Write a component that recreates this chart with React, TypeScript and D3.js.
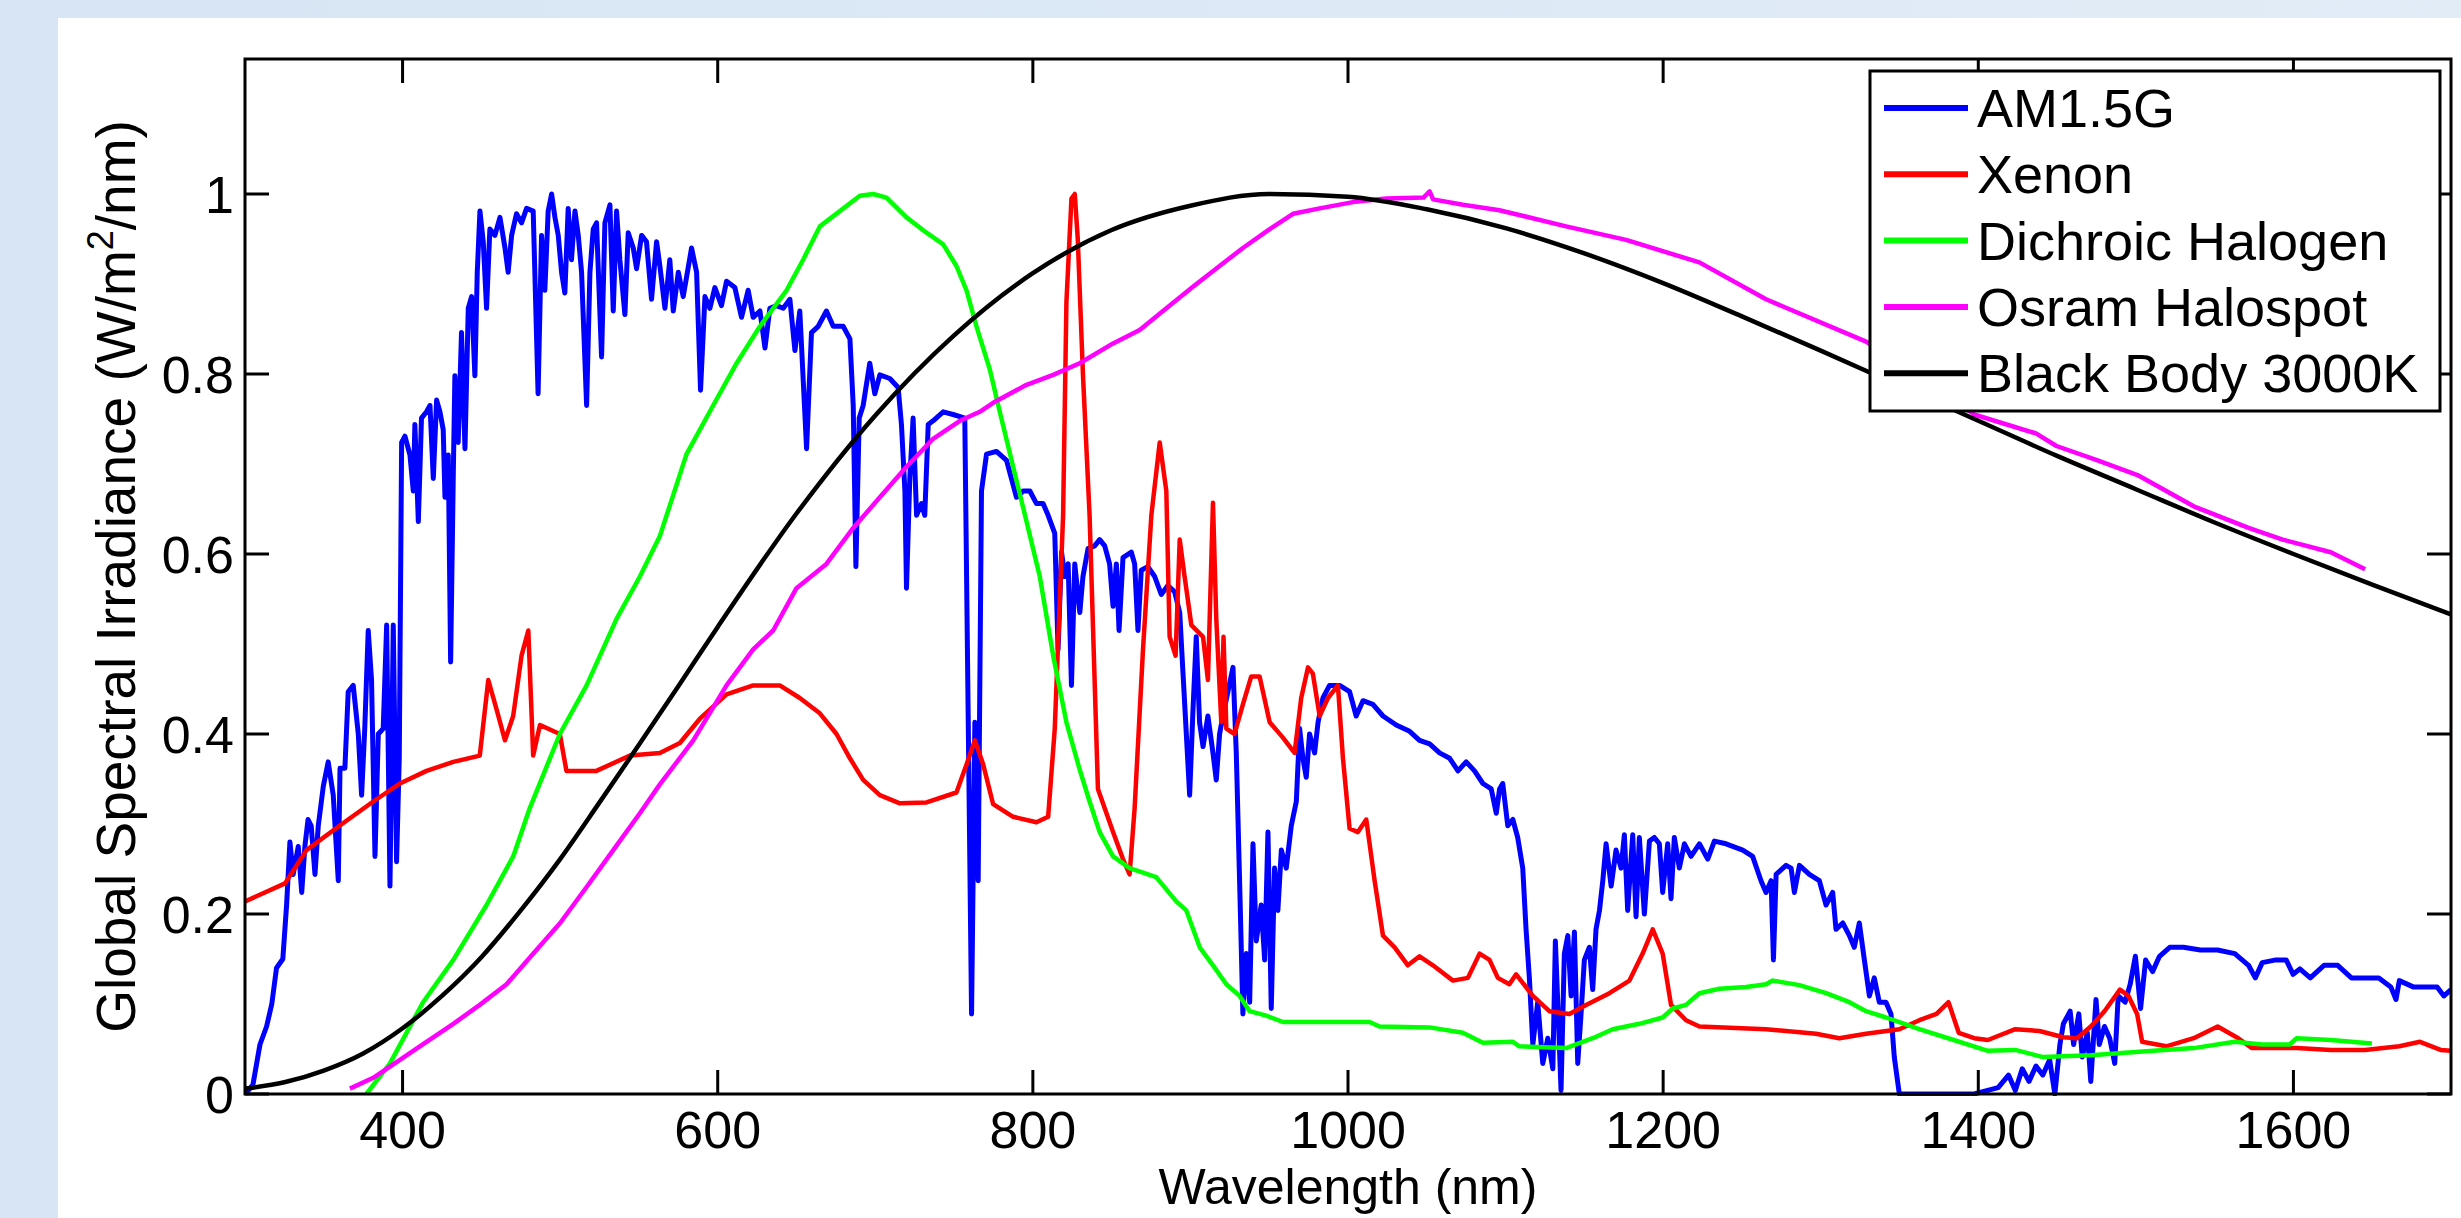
import React from "react";
import * as d3 from "d3";

// values (wavelength nm, normalised irradiance)
const am15g: [number, number][] = [
  [300, 0], [305, 0.01], [309.5, 0.055], [313.7, 0.075], [317, 0.1], [320, 0.14], [324, 0.15], [326.4, 0.21],
  [328.5, 0.28], [330.6, 0.244], [333.8, 0.275], [336, 0.224], [338, 0.275], [340, 0.305], [342, 0.298],
  [344.4, 0.244], [346.5, 0.298], [349.7, 0.342], [352.8, 0.369], [356, 0.332], [359.2, 0.237], [360.3, 0.362],
  [363.4, 0.362], [365.5, 0.447], [368.7, 0.454], [371.9, 0.4], [374, 0.332], [376, 0.406], [378.2, 0.515],
  [380.3, 0.46], [382.5, 0.264], [384.6, 0.4], [387.7, 0.406], [389.9, 0.521], [392, 0.231], [394.1, 0.521],
  [396.2, 0.258], [397.9, 0.373], [399.4, 0.724], [401.5, 0.731], [404.7, 0.71], [406.8, 0.67], [407.8, 0.744],
  [410, 0.636], [412, 0.751], [415.2, 0.758], [417.4, 0.765], [419.5, 0.684], [421.6, 0.771], [423.7, 0.758],
  [425.8, 0.738], [426.9, 0.663], [429, 0.71], [430.5, 0.48], [432.2, 0.69], [433.2, 0.798], [435.3, 0.724],
  [437.4, 0.846], [439.6, 0.717], [441.7, 0.873], [443.8, 0.886], [445.9, 0.798], [447.4, 0.913], [449.1, 0.981],
  [451.2, 0.947], [453.3, 0.873], [455.4, 0.961], [458.6, 0.954], [461.8, 0.974], [465, 0.94], [467, 0.913],
  [469.2, 0.954], [472.3, 0.978], [475.5, 0.968], [478.7, 0.984], [482.9, 0.981], [486, 0.778], [488.2, 0.954],
  [490.3, 0.893], [492.4, 0.981], [494.6, 1.0], [496.7, 0.974], [498.8, 0.954], [500.9, 0.913], [503, 0.89],
  [505.1, 0.984], [507.2, 0.927], [509.4, 0.981], [511.5, 0.954], [513.6, 0.913], [516.8, 0.765], [518.9, 0.913],
  [521, 0.961], [523.1, 0.968], [526.3, 0.819], [528.4, 0.968], [531.6, 0.988], [533.7, 0.87], [535.8, 0.981],
  [537.9, 0.927], [541.1, 0.866], [543.2, 0.957], [546.4, 0.94], [548.5, 0.917], [551.7, 0.954], [554.8, 0.947],
  [558, 0.883], [561.2, 0.947], [563.3, 0.92], [566.5, 0.873], [569.6, 0.927], [571.8, 0.87], [575, 0.913],
  [578.1, 0.886], [583.4, 0.94], [586.6, 0.913], [589.1, 0.782], [591.9, 0.886], [595, 0.873], [598.2, 0.896],
  [602.4, 0.876], [605.6, 0.903], [610.9, 0.896], [615.1, 0.863], [619.3, 0.893], [622.5, 0.863], [626.8, 0.87],
  [630, 0.829], [633.1, 0.873], [637.3, 0.876], [641.6, 0.873], [645.8, 0.883], [649, 0.826], [652.1, 0.87],
  [656.4, 0.717], [659.5, 0.846], [663.8, 0.853], [669, 0.87], [673.3, 0.853], [679.6, 0.853], [683.9, 0.839],
  [686, 0.765], [687.7, 0.586], [689.8, 0.751], [692.3, 0.765], [696.5, 0.812], [699.7, 0.778], [702.9, 0.799],
  [709.2, 0.795], [714.5, 0.785], [716.6, 0.744], [718.8, 0.67], [719.8, 0.562], [721.9, 0.684], [724, 0.751],
  [726.2, 0.643], [729.3, 0.656], [731.4, 0.643], [733.6, 0.744], [736.7, 0.748], [743.1, 0.758], [749.4, 0.755],
  [756.8, 0.751], [759, 0.413], [761.1, 0.089], [763.2, 0.413], [765.3, 0.237], [767.4, 0.67], [770.6, 0.711],
  [776.9, 0.714], [783.3, 0.704], [789.6, 0.663], [793.9, 0.67], [798.1, 0.67], [802.3, 0.656], [806.5, 0.656],
  [809.7, 0.643], [813.9, 0.623], [816, 0.494], [818.2, 0.602], [820.3, 0.575], [822.4, 0.589], [824.5, 0.454],
  [826.6, 0.589], [829.8, 0.535], [831.8, 0.575], [835, 0.606], [839.2, 0.609], [842.4, 0.616], [845.6, 0.609],
  [848.7, 0.589], [850.9, 0.542], [853, 0.589], [854.7, 0.515], [857.2, 0.596], [862.5, 0.602], [864.6, 0.589],
  [866.7, 0.515], [868.8, 0.582], [873, 0.586], [877.3, 0.575], [881.5, 0.555], [885.7, 0.565], [890, 0.558],
  [893.2, 0.535], [895.3, 0.467], [897.4, 0.4], [899.5, 0.332], [901.6, 0.426], [903.7, 0.508], [905.8, 0.413],
  [908, 0.386], [911.1, 0.42], [914.3, 0.379], [916.4, 0.349], [918.5, 0.4], [920.6, 0.42], [923.8, 0.447],
  [927, 0.474], [929.1, 0.379], [931.2, 0.237], [933.3, 0.089], [935.5, 0.156], [937.6, 0.102], [939.7, 0.278],
  [941.8, 0.17], [944.9, 0.21], [947.1, 0.149], [949.2, 0.291], [951.3, 0.095], [953.4, 0.251], [955.5, 0.204],
  [957.7, 0.271], [960.8, 0.251], [964, 0.298], [967.2, 0.325], [969.3, 0.406], [971.4, 0.373], [973.5, 0.352],
  [975.6, 0.4], [978.8, 0.379], [981, 0.413], [984.1, 0.44], [988.3, 0.454], [994.7, 0.454], [1001, 0.447],
  [1005.2, 0.42], [1009.5, 0.437], [1015.8, 0.433], [1022.2, 0.42], [1030.6, 0.41], [1039.1, 0.403],
  [1045.4, 0.393], [1051.8, 0.389], [1058.1, 0.379], [1064.5, 0.373], [1069.8, 0.359], [1075, 0.369],
  [1080.3, 0.359], [1085.6, 0.345], [1090.9, 0.339], [1094.1, 0.312], [1096.2, 0.339], [1098.2, 0.345],
  [1101.4, 0.298], [1104.6, 0.305], [1107.7, 0.285], [1110.9, 0.251], [1113, 0.183], [1115.1, 0.129],
  [1117.3, 0.055], [1120.4, 0.102], [1123.6, 0.034], [1126.8, 0.062], [1130, 0.028], [1131.6, 0.17],
  [1133.7, 0.075], [1135.2, 0.004], [1137.3, 0.156], [1139.5, 0.176], [1141.6, 0.109], [1143.7, 0.18],
  [1145.8, 0.034], [1147.9, 0.089], [1150, 0.149], [1153.2, 0.163], [1155.3, 0.116], [1157.4, 0.183],
  [1159.6, 0.204], [1161.7, 0.237], [1163.8, 0.278], [1167, 0.231], [1170.1, 0.271], [1173.3, 0.251],
  [1175.4, 0.288], [1177.5, 0.204], [1180.7, 0.288], [1182.8, 0.197], [1184.9, 0.285], [1188.1, 0.2],
  [1191.3, 0.281], [1194.4, 0.285], [1197.6, 0.278], [1199.7, 0.224], [1202.9, 0.278], [1205, 0.217],
  [1207.1, 0.285], [1210.3, 0.251], [1213.5, 0.278], [1217.7, 0.264], [1223, 0.278], [1228.3, 0.261],
  [1232.5, 0.281], [1239.9, 0.278], [1250.5, 0.271], [1256.8, 0.264], [1262.1, 0.237], [1265.3, 0.224],
  [1268.5, 0.237], [1270, 0.149], [1271.7, 0.244], [1278, 0.254], [1281.2, 0.251], [1283.3, 0.224],
  [1286.5, 0.254], [1292.8, 0.244], [1299.1, 0.237], [1303.4, 0.21], [1307.6, 0.224], [1309.7, 0.183],
  [1314, 0.19], [1318.2, 0.176], [1321.3, 0.163], [1324.5, 0.19], [1327.7, 0.149], [1330.9, 0.109],
  [1334, 0.129], [1337.2, 0.102], [1341.4, 0.102], [1344.6, 0.089], [1346.7, 0.041], [1349.9, 0], [1397.4, 0],
  [1412.6, 0.007], [1419.2, 0.021], [1423.5, 0.004], [1427.9, 0.028], [1432.2, 0.014], [1436.6, 0.031],
  [1440.9, 0.021], [1445.3, 0.038], [1448.6, 0], [1451.8, 0.055], [1454, 0.078], [1458.3, 0.092],
  [1460.5, 0.055], [1463.8, 0.089], [1466, 0.041], [1469.2, 0.068], [1471.4, 0.014], [1474.7, 0.105],
  [1476.8, 0.055], [1480.1, 0.075], [1483.4, 0.062], [1486.6, 0.034], [1488.8, 0.109], [1493.2, 0.102],
  [1496.4, 0.122], [1499.7, 0.153], [1503, 0.095], [1506.2, 0.149], [1510.6, 0.136], [1515, 0.153],
  [1521.5, 0.163], [1530.2, 0.163], [1541, 0.16], [1551.9, 0.16], [1562.8, 0.156], [1571.5, 0.143],
  [1575.8, 0.129], [1580.2, 0.146], [1588.9, 0.149], [1595.4, 0.149], [1599.8, 0.133], [1604.1, 0.139],
  [1610.7, 0.129], [1619.4, 0.143], [1628.1, 0.143], [1636.8, 0.129], [1645.5, 0.129], [1654.2, 0.129],
  [1661.8, 0.119], [1665.1, 0.105], [1667.2, 0.126], [1676, 0.119], [1684.7, 0.119], [1691.2, 0.119],
  [1695.5, 0.109], [1700, 0.116],
];

const xenon: [number, number][] = [
  [300, 0.214], [325.4, 0.234], [339, 0.271], [360, 0.298], [381.4, 0.325], [398.3, 0.345], [415.2, 0.359],
  [432.2, 0.369], [449, 0.376], [454.4, 0.46], [459.7, 0.427], [465, 0.393], [470.2, 0.42], [475.5, 0.487],
  [479.8, 0.515], [482.9, 0.376], [487.2, 0.41], [499.8, 0.4], [504, 0.359], [523, 0.359], [544.3, 0.376],
  [563.3, 0.379], [576, 0.39], [588.7, 0.417], [605.6, 0.444], [622.5, 0.454], [639.4, 0.454], [652.1, 0.44],
  [664.8, 0.423], [675.4, 0.4], [683.9, 0.373], [692.3, 0.349], [702.9, 0.332], [715.6, 0.323], [732.5, 0.324],
  [751.5, 0.335], [757.9, 0.366], [763.2, 0.393], [768.5, 0.366], [774.8, 0.322], [787.5, 0.308], [802.3, 0.302],
  [809.7, 0.308], [813.9, 0.406], [819.2, 0.643], [821.3, 0.88], [824.5, 0.995], [826.6, 1.0], [828.5, 0.95],
  [831.8, 0.799], [836, 0.643], [841.3, 0.339], [850.9, 0.291], [857.2, 0.261], [861.4, 0.244], [864.6, 0.318],
  [869.9, 0.494], [875.2, 0.643], [880.5, 0.724], [884.7, 0.67], [886.8, 0.508], [890.6, 0.487], [893.2, 0.616],
  [896.3, 0.575], [900.6, 0.521], [908, 0.508], [911.1, 0.46], [914.3, 0.657], [916.4, 0.528], [919.6, 0.413],
  [921, 0.508], [922.8, 0.406], [928, 0.4], [933.3, 0.433], [938.6, 0.464], [943.9, 0.464], [950.3, 0.413],
  [958.7, 0.396], [966.1, 0.379], [970.3, 0.44], [974.6, 0.474], [977.7, 0.467], [982, 0.42], [987.3, 0.44],
  [993.6, 0.454], [996.8, 0.373], [1001, 0.295], [1006.3, 0.291], [1011.6, 0.305], [1016.9, 0.237],
  [1022.2, 0.176], [1029.6, 0.163], [1038, 0.143], [1045.4, 0.153], [1053.9, 0.143], [1066.6, 0.126],
  [1076.1, 0.129], [1083.5, 0.156], [1089.8, 0.149], [1095.1, 0.129], [1102.4, 0.122], [1106.7, 0.133],
  [1117.3, 0.109], [1127.8, 0.092], [1140.5, 0.089], [1151.1, 0.099], [1165.9, 0.112], [1178.6, 0.126],
  [1187, 0.156], [1193.4, 0.183], [1199.7, 0.156], [1205, 0.099], [1214.5, 0.082], [1223, 0.075],
  [1265.3, 0.072], [1297, 0.067], [1311.8, 0.062], [1328.8, 0.067], [1349.9, 0.072], [1362.6, 0.082],
  [1373.5, 0.089], [1381.1, 0.102], [1387.6, 0.068], [1397.4, 0.062], [1406.1, 0.06], [1423.5, 0.072],
  [1438.8, 0.07], [1454, 0.063], [1462.7, 0.062], [1471.4, 0.075], [1480.1, 0.092], [1489.9, 0.116],
  [1495.3, 0.109], [1500.8, 0.089], [1504, 0.058], [1519.3, 0.053], [1536.7, 0.062], [1551.9, 0.075],
  [1565, 0.062], [1573.7, 0.051], [1602, 0.051], [1623.7, 0.049], [1645.5, 0.049], [1667.2, 0.053],
  [1680.3, 0.058], [1693.4, 0.049], [1700, 0.048],
];

const dichroic: [number, number][] = [
  [377, 0], [392, 0.034], [413, 0.102], [432.2, 0.149], [453.3, 0.21], [470.2, 0.264], [480.8, 0.318],
  [499.8, 0.4], [516.8, 0.454], [535.8, 0.528], [550.6, 0.575], [563.3, 0.62], [580.2, 0.711], [597.1, 0.765],
  [612, 0.812], [626.8, 0.853], [643.7, 0.893], [654.2, 0.927], [664.8, 0.964], [677.5, 0.981], [690.2, 0.998],
  [698.7, 1.0], [707.1, 0.996], [719.8, 0.974], [732.5, 0.957], [743.1, 0.944], [751.5, 0.92], [757.9, 0.893],
  [764.2, 0.853], [772.7, 0.805], [779, 0.758], [787.5, 0.697], [796, 0.636], [804.4, 0.575], [812.9, 0.487],
  [821.3, 0.413], [829.8, 0.36], [836, 0.325], [842.4, 0.291], [850.9, 0.264], [861.4, 0.251], [878.3, 0.241],
  [891, 0.214], [897.4, 0.204], [905.9, 0.163], [914.3, 0.143], [922.8, 0.122], [931.2, 0.109], [937.6, 0.092],
  [948.1, 0.087], [958.7, 0.08], [1013.7, 0.08], [1020, 0.075], [1051.8, 0.074], [1072.9, 0.068],
  [1085.6, 0.057], [1104.6, 0.058], [1108.8, 0.053], [1138.4, 0.051], [1155.3, 0.062], [1168, 0.072],
  [1184.9, 0.078], [1199.7, 0.085], [1206.1, 0.095], [1214.5, 0.099], [1223, 0.112], [1235.7, 0.117],
  [1252.6, 0.119], [1265.3, 0.122], [1269.5, 0.126], [1286.5, 0.121], [1303.4, 0.112], [1318.2, 0.102],
  [1328.8, 0.092], [1341.4, 0.085], [1362.6, 0.072], [1384.4, 0.06], [1406.1, 0.048], [1423.5, 0.049],
  [1441, 0.041], [1471.4, 0.043], [1501.9, 0.047], [1536.7, 0.051], [1562.8, 0.058], [1580.2, 0.055],
  [1597.6, 0.055], [1602, 0.062], [1623.7, 0.06], [1649.8, 0.056],
];

const halospot: [number, number][] = [
  [366.6, 0.006], [381.4, 0.018], [398.3, 0.038], [415.2, 0.058], [432.2, 0.078], [449, 0.099], [466, 0.122],
  [483, 0.156], [500, 0.19], [516.8, 0.23], [533.7, 0.271], [550.6, 0.312], [563.3, 0.344], [584.5, 0.393],
  [605.6, 0.454], [622.5, 0.494], [635.2, 0.515], [650, 0.562], [669, 0.589], [686, 0.629], [702.9, 0.663],
  [719.8, 0.697], [736.7, 0.728], [753.7, 0.748], [766.3, 0.758], [774.8, 0.768], [796, 0.788], [812.9, 0.799],
  [829.7, 0.812], [850.9, 0.834], [867.8, 0.849], [882.6, 0.87], [901.6, 0.897], [918.5, 0.92], [933.3, 0.94],
  [950.3, 0.961], [965.1, 0.978], [982, 0.984], [1003.1, 0.991], [1024.3, 0.995], [1048, 0.996],
  [1051.8, 1.003], [1054, 0.994], [1073, 0.988], [1096.1, 0.982], [1138.4, 0.964], [1176.5, 0.949],
  [1223, 0.924], [1265.3, 0.883], [1328.8, 0.836], [1365, 0.795], [1397.4, 0.755], [1436.6, 0.734],
  [1449.6, 0.72], [1475.7, 0.704], [1501.9, 0.687], [1536.7, 0.653], [1571.5, 0.629], [1593.2, 0.616],
  [1623.7, 0.602], [1645.5, 0.583],
];

const blackBody: [number, number][] = [
  [300, 0.006], [325, 0.013], [350, 0.026], [375, 0.045], [400, 0.073], [425, 0.109], [450, 0.152],
  [475, 0.204], [500, 0.261], [525, 0.324], [550, 0.388], [575, 0.453], [600, 0.519], [650, 0.645],
  [700, 0.754], [750, 0.843], [800, 0.912], [850, 0.96], [900, 0.987], [950, 1.0], [1000, 0.997],
  [1050, 0.983], [1100, 0.962], [1150, 0.934], [1200, 0.901], [1250, 0.864], [1300, 0.826], [1350, 0.787],
  [1400, 0.748], [1450, 0.709], [1500, 0.672], [1550, 0.635], [1600, 0.6], [1650, 0.566], [1700, 0.533],
];

const seriesNames = ["AM1.5G", "Xenon", "Dichroic Halogen", "Osram Halospot", "Black Body 3000K"];
const seriesColors = ["#0000ff", "#ff0000", "#00ff00", "#ff00ff", "#000000"];
const xTicks = [400, 600, 800, 1000, 1200, 1400, 1600];
const yTicks = [0, 0.2, 0.4, 0.6, 0.8, 1];
const yTickLabels = ["0", "0.2", "0.4", "0.6", "0.8", "1"];

const W = 2461;
const H = 1218;
const font = "'Liberation Sans', Arial, Helvetica, sans-serif";

export default function App() {
  const left = 245, right = 2451, top = 59, bottom = 1094;
  const x = d3.scaleLinear().domain([300, 1700]).range([left, right]);
  const y = d3.scaleLinear().domain([0, 1.15]).range([bottom, top]);

  const line = d3.line<[number, number]>().x((d) => x(d[0])).y((d) => y(d[1]));
  const smooth = d3
    .line<[number, number]>()
    .x((d) => x(d[0]))
    .y((d) => y(d[1]))
    .curve(d3.curveMonotoneX);

  const allSeries = [am15g, xenon, dichroic, halospot, blackBody];
  const tickLen = 24;

  // legend box
  const lg = { x: 1870, y: 71, w: 570, h: 340, row0: 108, step: 66.3 };

  return (
    <div style={{ position: "absolute", left: 0, top: 0, width: W, height: H, overflow: "hidden" }}>
      <svg width={W} height={H} style={{ display: "block" }}>
        <defs>
          <linearGradient id="bg" x1="0" y1="0" x2="1" y2="0">
            <stop offset="0" stopColor="#d7e5f4" />
            <stop offset="1" stopColor="#e2ecf7" />
          </linearGradient>
          <clipPath id="plot">
            <rect x={left} y={top} width={right - left} height={bottom - top + 2} />
          </clipPath>
        </defs>
        <rect x={0} y={0} width={W} height={H} fill="url(#bg)" />
        <rect x={58} y={18} width={W - 58} height={H - 18} fill="#ffffff" />

        {/* data */}
        <g clipPath="url(#plot)" fill="none" strokeLinejoin="round">
          {allSeries.map((s, i) => (
            <path
              key={seriesNames[i]}
              d={(i === 4 ? smooth(s) : line(s)) || ""}
              stroke={seriesColors[i]}
              strokeWidth={i === 0 ? 5 : 4.5}
            />
          ))}
        </g>

        {/* axes box and ticks */}
        <g stroke="#000" strokeWidth={3}>
          <rect x={left} y={top} width={right - left} height={bottom - top} fill="none" />
          {xTicks.map((t) => (
            <g key={"xt" + t}>
              <line x1={x(t)} x2={x(t)} y1={bottom} y2={bottom - tickLen} />
              <line x1={x(t)} x2={x(t)} y1={top} y2={top + tickLen} />
            </g>
          ))}
          {yTicks.map((t) => (
            <g key={"yt" + t}>
              <line x1={left} x2={left + tickLen} y1={y(t)} y2={y(t)} />
              <line x1={right} x2={right - tickLen} y1={y(t)} y2={y(t)} />
            </g>
          ))}
        </g>

        <g fontFamily={font} fontSize={52} fill="#000">
          {xTicks.map((t) => (
            <text key={"xl" + t} x={x(t)} y={1148} textAnchor="middle">
              {t}
            </text>
          ))}
          {yTicks.map((t, i) => (
            <text key={"yl" + t} x={234} y={y(t) + 19} textAnchor="end">
              {yTickLabels[i]}
            </text>
          ))}
        </g>

        {/* axis titles */}
        <text x={(left + right) / 2} y={1204} textAnchor="middle" fontFamily={font} fontSize={50}>
          Wavelength (nm)
        </text>
        <text
          transform={`translate(135,${(top + bottom) / 2}) rotate(-90)`}
          textAnchor="middle"
          fontFamily={font}
          fontSize={55}
        >
          Global Spectral Irradiance (W/m
          <tspan fontSize={36} dy={-22}>2</tspan>
          <tspan dy={22}>/nm)</tspan>
        </text>

        {/* legend */}
        <g>
          <rect x={lg.x} y={lg.y} width={lg.w} height={lg.h} fill="#fff" stroke="#000" strokeWidth={3} />
          {seriesNames.map((name, i) => {
            const ry = lg.row0 + i * lg.step;
            return (
              <g key={name}>
                <line x1={1884} x2={1968} y1={ry} y2={ry} stroke={seriesColors[i]} strokeWidth={6} />
                <text x={1977} y={ry + 19} fontFamily={font} fontSize={54}>
                  {name}
                </text>
              </g>
            );
          })}
        </g>
      </svg>
    </div>
  );
}
